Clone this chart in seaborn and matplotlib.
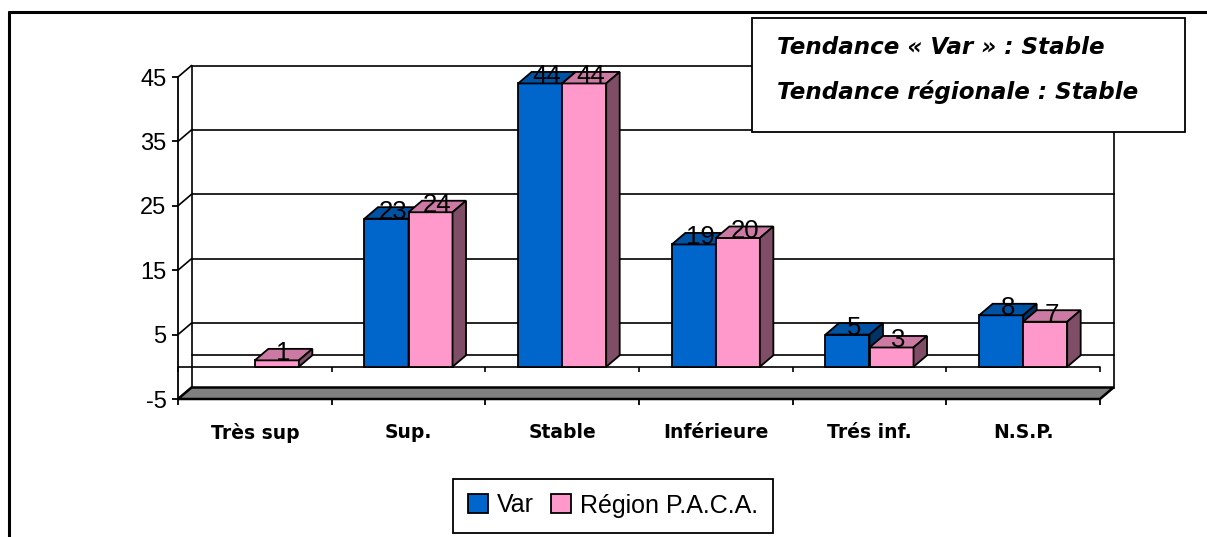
import numpy as np
import pandas as pd
import matplotlib
matplotlib.use("Agg")
import matplotlib.pyplot as plt
import seaborn as sns
from matplotlib.patches import Polygon, Rectangle, Patch
from matplotlib.lines import Line2D
from matplotlib.colors import to_rgb

# ---- data ----
categories = ["Très sup", "Sup.", "Stable", "Inférieure", "Trés inf.", "N.S.P."]
var_values = [np.nan, 23, 44, 19, 5, 8]
paca_values = [1, 24, 44, 20, 3, 7]
series_names = ["Var", "Région P.A.C.A."]
y_ticks = [-5, 5, 15, 25, 35, 45]
note_lines = ["Tendance « Var » : Stable", "Tendance régionale : Stable"]

W, H = 1207, 537
sns.set_theme(style="white")
plt.rcParams['font.family'] = ['Liberation Sans', 'DejaVu Sans']
plt.rcParams['axes.unicode_minus'] = False
plt.rcParams['text.color'] = 'black'

fig = plt.figure(figsize=(W / 100, H / 100), dpi=100)
fig.patch.set_facecolor('white')


def fx(px):
    return px / W


def fy(py):
    return 1 - py / H


x0, x1, ytop, ybot = 178, 1100, 77, 399
ax = fig.add_axes([fx(x0), fy(ybot), fx(x1) - fx(x0), fy(ytop) - fy(ybot)])
ax.set_facecolor('none')

df = pd.DataFrame({
    "cat": categories * 2,
    "series": [series_names[0]] * len(categories) + [series_names[1]] * len(categories),
    "val": var_values + paca_values,
}).dropna()
palette = {series_names[0]: "#0066CC", series_names[1]: "#FF99CC"}
sns.barplot(data=df, x="cat", y="val", hue="series", order=categories,
            hue_order=series_names, palette=palette, width=0.573, gap=0,
            saturation=1, edgecolor='black', linewidth=1.3, legend=False,
            errorbar=None, ax=ax)

ax.set_xlim(-0.5, len(categories) - 0.5)
ax.set_ylim(y_ticks[0], y_ticks[-1])

# depth offsets (pixel -> data)
xppu = (x1 - x0) / len(categories)
yppu = (ybot - ytop) / (y_ticks[-1] - y_ticks[0])
DX = 13.5 / xppu
DY = 11.5 / yppu
xl, xr = -0.5, len(categories) - 0.5
ymin, ymax = y_ticks[0], y_ticks[-1]
lk = dict(color='black', lw=1.2, clip_on=False, zorder=1)

# back wall gridlines
for v in y_ticks + [0]:
    ax.plot([xl + DX, xr + DX], [v + DY, v + DY], **lk)
# left wall diagonals
for v in y_ticks:
    ax.plot([xl, xl + DX], [v, v + DY], **lk)
ax.plot([xl + DX, xl + DX], [ymin + DY, ymax + DY], **lk)
ax.plot([xr + DX, xr + DX], [ymin + DY, ymax + DY], **lk)
# floor
floor = Polygon([(xl, ymin), (xr, ymin), (xr + DX, ymin + DY), (xl + DX, ymin + DY)],
                closed=True, facecolor='#808080', edgecolor='black', lw=1.8,
                clip_on=False, zorder=1.5)
ax.add_patch(floor)
# category axis at 0 with ticks
ax.plot([xl, xr], [0, 0], **lk)
bounds = np.arange(xl, xr + 0.01, 1.0)
ax.vlines(bounds, -5.5 / yppu, 0, color='black', lw=1.2, zorder=1, clip_on=False)

# 3D faces of bars
for i, cont in enumerate(ax.containers):
    for bar in cont:
        h = bar.get_height()
        if not np.isfinite(h):
            continue
        x = bar.get_x()
        w = bar.get_width()
        fc = np.array(to_rgb(bar.get_facecolor()))
        bar.set_zorder(3 + i)
        top = Polygon([(x, h), (x + w, h), (x + w + DX, h + DY), (x + DX, h + DY)],
                      closed=True, facecolor=fc * 0.8, edgecolor='black', lw=1.3,
                      zorder=3 + i, clip_on=False)
        side = Polygon([(x + w, 0), (x + w + DX, DY), (x + w + DX, h + DY), (x + w, h)],
                       closed=True, facecolor=fc * 0.5, edgecolor='black', lw=1.3,
                       zorder=3 + i, clip_on=False)
        ax.add_patch(top)
        ax.add_patch(side)
        ax.text(x + w / 2 + DX / 2, h, f"{h:g}", ha='center', va='baseline',
                fontsize=18.5, color='black', zorder=10)

# axes styling
for s in ['top', 'right']:
    ax.spines[s].set_visible(False)
for s in ['left', 'bottom']:
    ax.spines[s].set_color('black')
    ax.spines[s].set_linewidth(1.3)
ax.set_yticks(y_ticks)
ax.tick_params(axis='y', left=True, direction='out', length=4.3, width=1.3,
               pad=4, labelsize=17, labelcolor='black', color='black')
ax.set_xticks(range(len(categories)), categories)
ax.set_xticks(bounds, minor=True)
ax.tick_params(axis='x', which='major', length=0, pad=17, labelcolor='black')
ax.tick_params(axis='x', which='minor', bottom=True, direction='out', length=4.3,
               width=1.3, color='black')
for lab in ax.get_xticklabels():
    lab.set_fontfamily('DejaVu Sans')
    lab.set_fontweight('bold')
    lab.set_fontsize(13.5)
ax.set_xlabel('')
ax.set_ylabel('')

# note box
fig.add_artist(Rectangle((fx(752), fy(132)), fx(1185) - fx(752), fy(18) - fy(132),
                         transform=fig.transFigure, facecolor='white',
                         edgecolor='black', lw=1.3, zorder=20))
for line, py in zip(note_lines, [48, 92]):
    fig.text(fx(777), fy(py), line, fontsize=16.6, fontweight='bold', style='italic',
             family='DejaVu Sans', va='center', ha='left', color='black', zorder=21)

# outer frame
fig.add_artist(Line2D([fx(9), 1], [fy(12), fy(12)], transform=fig.transFigure,
                      lw=2.2, color='black'))
fig.add_artist(Line2D([fx(9), fx(9)], [fy(12), 0], transform=fig.transFigure,
                      lw=2.2, color='black'))

# legend
handles = [Patch(facecolor=palette[s], edgecolor='black', lw=1.3, label=s)
           for s in series_names]
leg = fig.legend(handles=handles, loc='center', bbox_to_anchor=(fx(613), fy(505.5)),
                 ncol=2, frameon=True, fancybox=False, edgecolor='black',
                 framealpha=1, fontsize=18, handlelength=0.8, handleheight=0.8,
                 handletextpad=0.35, columnspacing=0.7, borderpad=0.6,
                 borderaxespad=0)
for t in leg.get_texts():
    t.set_color('black')
leg.get_frame().set_linewidth(1.3)

fig.savefig("out.png", dpi=100, facecolor='white')
